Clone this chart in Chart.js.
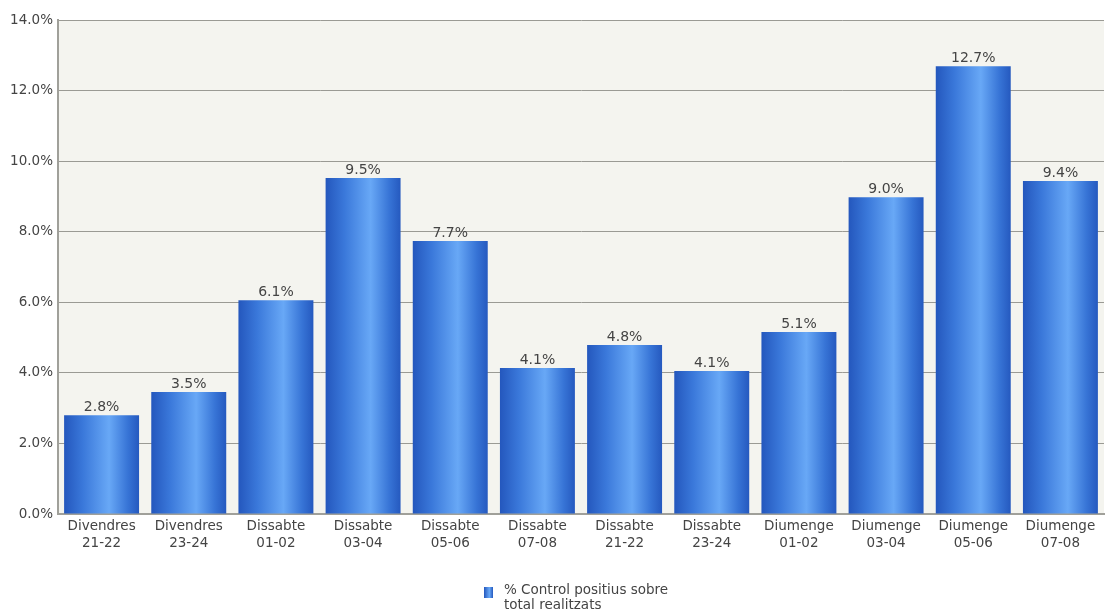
<!DOCTYPE html>
<html>
<head>
<meta charset="utf-8">
<script src="https://cdn.jsdelivr.net/npm/chart.js@4"></script>
<style>
  html, body { margin: 0; padding: 0; background: #ffffff; }
  .chart-wrapper { width: 1106px; height: 614px; }
</style>
</head>
<body>
<div class="chart-wrapper">
  <canvas id="controlsChart" width="1106" height="614"></canvas>
</div>
<script>
// categories (two-line tick labels)
const dayLabels = ["Divendres", "Divendres", "Dissabte", "Dissabte", "Dissabte", "Dissabte",
  "Dissabte", "Dissabte", "Diumenge", "Diumenge", "Diumenge", "Diumenge"];
const hourLabels = ["21-22", "23-24", "01-02", "03-04", "05-06", "07-08",
  "21-22", "23-24", "01-02", "03-04", "05-06", "07-08"];

// % control positius sobre total realitzats
const positiveRate = [2.8, 3.46, 6.06, 9.52, 7.74, 4.14, 4.79, 4.05, 5.16, 8.98, 12.69, 9.44];
const valueLabels = ["2.8%", "3.5%", "6.1%", "9.5%", "7.7%", "4.1%", "4.8%", "4.1%", "5.1%", "9.0%", "12.7%", "9.4%"];

const seriesLabel = ["% Control positius sobre", "total realitzats"];
const yTicks = [0, 2, 4, 6, 8, 10, 12, 14];

const FONT = "'DejaVu Sans', Verdana, sans-serif";
const BAR_PCT = 0.86;

//horizontal "cylinder" gradient for each bar
function barGradient(ctx) {
  let chart = ctx.chart;
  let area = chart.chartArea;
  if (!area || !chart.scales.x) return "#3a7bdc";
  let xScale = chart.scales.x;
  let cx = xScale.getPixelForValue(ctx.dataIndex);
  let w = (xScale.width / dayLabels.length) * BAR_PCT;
  let g = chart.ctx.createLinearGradient(cx - w / 2, 0, cx + w / 2, 0);
  g.addColorStop(0, "#2457bd");
  g.addColorStop(0.25, "#3a78da");
  g.addColorStop(0.6, "#68a8f6");
  g.addColorStop(0.85, "#3774d6");
  g.addColorStop(1, "#2559bf");
  return g;
}

//plot background, value labels and legend
const decorPlugin = {
  id: "decor",
  beforeDraw(chart) {
    let { ctx, chartArea } = chart;
    ctx.save();
    ctx.fillStyle = "#f4f4ef";
    ctx.fillRect(chartArea.left, chartArea.top, chartArea.right - chartArea.left, chartArea.bottom - chartArea.top);
    ctx.restore();
  },
  afterDraw(chart) {
    let ctx = chart.ctx;
    let meta = chart.getDatasetMeta(0);
    ctx.save();
    ctx.font = "14px " + FONT;
    ctx.fillStyle = "#444444";
    ctx.textAlign = "center";
    ctx.textBaseline = "bottom";
    meta.data.forEach((bar, i) => {
      ctx.fillText(valueLabels[i], bar.x, bar.y - 1);
    });

    //legend
    let lx = 484, ly = 587;
    let g = ctx.createLinearGradient(lx, 0, lx + 9, 0);
    g.addColorStop(0, "#2457bd");
    g.addColorStop(0.6, "#68a8f6");
    g.addColorStop(1, "#2559bf");
    ctx.fillStyle = g;
    ctx.fillRect(lx, ly, 9, 11);
    ctx.font = "13.5px " + FONT;
    ctx.fillStyle = "#444444";
    ctx.textAlign = "left";
    ctx.textBaseline = "middle";
    ctx.fillText(seriesLabel[0], 504, 590);
    ctx.fillText(seriesLabel[1], 504, 605);
    ctx.restore();
  },
};

let ctx = document.getElementById("controlsChart").getContext("2d");
let chart = new Chart(ctx, {
  type: "bar",
  data: {
    labels: dayLabels.map((d, i) => [d, hourLabels[i]]),
    datasets: [
      {
        label: seriesLabel.join(" "),
        data: positiveRate,
        backgroundColor: barGradient,
        borderWidth: 0,
        barPercentage: BAR_PCT,
        categoryPercentage: 1,
      },
    ],
  },
  options: {
    responsive: false,
    animation: false,
    layout: { padding: { top: 20, right: 2, left: 0, bottom: 0 } },
    plugins: {
      legend: { display: false },
      tooltip: { enabled: false },
    },
    scales: {
      x: {
        grid: { display: false, drawTicks: false },
        border: { display: true, color: "#a0a09a", width: 2 },
        ticks: {
          color: "#444444",
          font: { family: FONT, size: 13.5, lineHeight: 1.25 },
          padding: 4,
          maxRotation: 0,
          autoSkip: false,
        },
        afterFit(scale) {
          scale.height = 100;
        },
      },
      y: {
        min: 0,
        max: 14,
        z: 1,
        afterBuildTicks(scale) {
          scale.ticks = yTicks.map((v) => ({ value: v }));
        },
        grid: { color: "#9a9a94", lineWidth: 1, drawTicks: false },
        border: { display: true, color: "#a0a09a", width: 2 },
        ticks: {
          color: "#444444",
          font: { family: FONT, size: 13.5 },
          padding: 5,
          callback: (v) => v.toFixed(1) + "%",
        },
        afterFit(scale) {
          scale.width = 58;
        },
      },
    },
  },
  plugins: [decorPlugin],
});
</script>
</body>
</html>
